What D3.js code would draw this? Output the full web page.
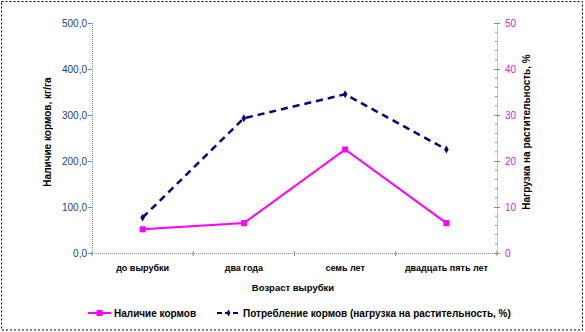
<!DOCTYPE html>
<html><head><meta charset="utf-8">
<script src="https://d3js.org/d3.v7.min.js"></script>
<style>body{margin:0;background:#fff;}svg{display:block;font-family:Arial,"Liberation Sans",sans-serif;}</style>
</head><body><svg id="c" width="585" height="332"></svg>
<script>
const categories = ["до вырубки", "два года", "семь лет", "двадцать пять лет"];
const availability = [51.5, 65, 225, 65];        // Наличие кормов, кг/га (left axis)
const consumption = [7.7, 29.3, 34.5, 22.5];      // Потребление кормов, % (right axis)
const leftTicks = [0, 100, 200, 300, 400, 500];
const rightTicks = [0, 10, 20, 30, 40, 50];
const seriesNames = ["Наличие кормов", "Потребление кормов (нагрузка на растительность, %)"];
const leftTitle = "Наличие кормов, кг/га";
const rightTitle = "Нагрузка на растительность, %";
const xTitle = "Возраст вырубки";

const svg = d3.select("#c");
const L = 92, R = 497, T = 23, B = 253;
const magenta = "#FF00FF", navy = "#000080", axisCol = "#888";

svg.append("rect").attr("x", 1.5).attr("y", 1.5).attr("width", 581).attr("height", 328.5)
  .attr("fill", "none").attr("stroke", "#000").attr("stroke-dasharray", "2,2");

const x = d3.scaleBand().domain(categories).range([L, R]);
const yL = d3.scaleLinear().domain([0, 500]).range([B, T]);
const yR = d3.scaleLinear().domain([0, 50]).range([B, T]);

// left axis
const gl = svg.append("g").attr("transform", `translate(${L},0)`)
  .call(d3.axisLeft(yL).tickValues(leftTicks).tickSize(4).tickFormat(d => d3.format(".1f")(d).replace(".", ",")));
gl.select(".domain").attr("stroke", axisCol).attr("stroke-dasharray", "1,1");
gl.selectAll(".tick line").attr("stroke", axisCol);
gl.selectAll(".tick text").attr("fill", "#1F3F6F").attr("font-size", 10).attr("x", -5);

// right axis minor ticks
const minor = d3.range(0, 51, 2).filter(v => v % 10 !== 0);
svg.append("g").selectAll("line").data(minor).join("line")
  .attr("x1", R - 2).attr("x2", R).attr("y1", d => yR(d)).attr("y2", d => yR(d)).attr("stroke", axisCol);
const gr = svg.append("g").attr("transform", `translate(${R},0)`)
  .call(d3.axisRight(yR).tickValues(rightTicks).tickSize(0).tickPadding(8));
gr.select(".domain").attr("stroke", axisCol).attr("stroke-dasharray", "1,1");
gr.selectAll(".tick").append("line").attr("x1", -3).attr("x2", 3).attr("stroke", axisCol);
gr.selectAll(".tick text").attr("fill", "#E020E0").attr("font-size", 10);

// bottom axis
svg.append("line").attr("x1", L).attr("x2", R).attr("y1", B + 0.5).attr("y2", B + 0.5)
  .attr("stroke", axisCol).attr("stroke-dasharray", "1,1");
const bounds = categories.map(c => x(c)).concat([R]);
svg.append("g").selectAll("line").data(bounds).join("line")
  .attr("x1", d => d).attr("x2", d => d).attr("y1", B - 2).attr("y2", B + 3).attr("stroke", axisCol);
svg.append("g").selectAll("text").data(categories).join("text")
  .attr("x", d => x(d) + x.bandwidth() / 2).attr("y", 271).attr("text-anchor", "middle")
  .attr("font-size", 9).attr("font-weight", "bold").text(d => d);

// titles
svg.append("text").attr("x", 293).attr("y", 291).attr("text-anchor", "middle")
  .attr("font-size", 9.5).attr("font-weight", "bold").text(xTitle);
svg.append("text").attr("transform", "translate(51,132) rotate(-90)").attr("text-anchor", "middle")
  .attr("font-size", 10).attr("font-weight", "bold").text(leftTitle);
svg.append("text").attr("transform", "translate(530,132) rotate(-90)").attr("text-anchor", "middle")
  .attr("font-size", 10).attr("font-weight", "bold").text(rightTitle);

const cx = d => x(d) + x.bandwidth() / 2;
// availability line
svg.append("path").datum(availability)
  .attr("d", d3.line().x((d, i) => cx(categories[i])).y(d => yL(d)))
  .attr("fill", "none").attr("stroke", magenta).attr("stroke-width", 2);
svg.append("g").selectAll("rect").data(availability).join("rect")
  .attr("x", (d, i) => cx(categories[i]) - 3).attr("y", d => yL(d) - 3)
  .attr("width", 6).attr("height", 6).attr("fill", magenta);
// consumption line
svg.append("path").datum(consumption)
  .attr("d", d3.line().x((d, i) => cx(categories[i])).y(d => yR(d)))
  .attr("fill", "none").attr("stroke", navy).attr("stroke-width", 2.5).attr("stroke-dasharray", "7,5");
svg.append("g").selectAll("path").data(consumption).join("path")
  .attr("d", d3.symbol(d3.symbolDiamond, 18))
  .attr("transform", (d, i) => `translate(${cx(categories[i])},${yR(d)})`).attr("fill", navy);

// legend
const ly = 313;
svg.append("line").attr("x1", 88).attr("x2", 111).attr("y1", ly).attr("y2", ly).attr("stroke", magenta).attr("stroke-width", 2);
svg.append("rect").attr("x", 96.5).attr("y", ly - 3).attr("width", 6).attr("height", 6).attr("fill", magenta);
svg.append("text").attr("x", 114).attr("y", ly + 3.5).attr("font-size", 10).attr("font-weight", "bold").text(seriesNames[0]);
svg.append("line").attr("x1", 217).attr("x2", 240).attr("y1", ly).attr("y2", ly).attr("stroke", navy).attr("stroke-width", 2).attr("stroke-dasharray", "5,3");
svg.append("path").attr("d", d3.symbol(d3.symbolDiamond, 14)).attr("transform", `translate(228.5,${ly})`).attr("fill", navy);
svg.append("text").attr("x", 243).attr("y", ly + 3.5).attr("font-size", 10).attr("font-weight", "bold").text(seriesNames[1]);
</script></body></html>
